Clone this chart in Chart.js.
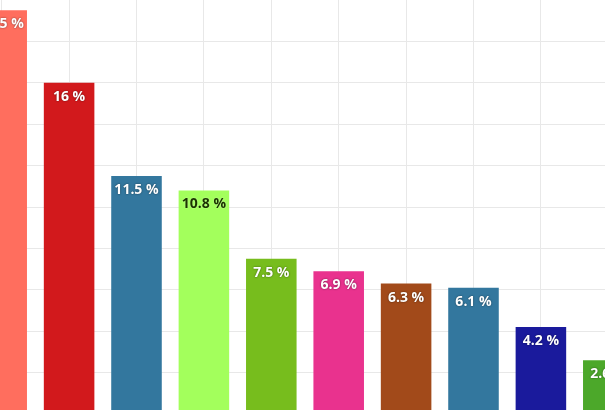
<!DOCTYPE html>
<html>
<head>
<meta charset="utf-8">
<script src="https://cdn.jsdelivr.net/npm/chart.js@4/dist/chart.umd.min.js"></script>
<style>
  html, body { margin: 0; padding: 0; background: #fff; overflow: hidden; }
  body { width: 605px; height: 410px; position: relative; }
  #wrap { position: absolute; left: -32px; top: 0; width: 674px; height: 414px; }
</style>
</head>
<body>
<div id="wrap"><canvas id="chart"></canvas></div>
<script>
// values (percent)
const categories = ["1", "2", "3", "4", "5", "6", "7", "8", "9", "10"];
const values = [19.5, 16, 11.5, 10.8, 7.5, 6.9, 6.3, 6.1, 4.2, 2.6];
const barColors = ["#FF6E5E", "#D2191C", "#33779E", "#A3FF5C", "#77BD1D",
                   "#E9328E", "#A24A1A", "#33779E", "#1A1A9C", "#4CA82A"];
const labelColors = ["#fff", "#fff", "#fff", "#1b3300", "#fff",
                     "#fff", "#fff", "#fff", "#fff", "#fff"];

// percent labels near the top of each bar
const barLabels = {
  id: 'barLabels',
  afterDatasetsDraw(chart) {
    const ctx = chart.ctx;
    const meta = chart.getDatasetMeta(0);
    ctx.save();
    ctx.font = "bold 14px 'Open Sans'";
    ctx.textAlign = 'center';
    ctx.textBaseline = 'middle';
    meta.data.forEach((bar, i) => {
      const dark = labelColors[i] !== '#fff';
      ctx.shadowColor = dark ? 'rgba(255,255,255,0.4)' : 'rgba(0,0,0,0.55)';
      ctx.shadowBlur = 2;
      ctx.fillStyle = labelColors[i];
      ctx.fillText(values[i] + ' %', bar.x, bar.y + 14);
    });
    ctx.restore();
  }
};

new Chart(document.getElementById('chart'), {
  type: 'bar',
  data: {
    labels: categories,
    datasets: [{
      data: values,
      backgroundColor: barColors,
      barPercentage: 0.75,
      categoryPercentage: 1.0
    }]
  },
  options: {
    responsive: true,
    maintainAspectRatio: false,
    animation: false,
    layout: { padding: 0 },
    plugins: { legend: { display: false }, tooltip: { enabled: false } },
    scales: {
      x: {
        grid: { offset: false, color: '#e8e8e8', drawTicks: false },
        border: { display: false },
        ticks: { display: false }
      },
      y: {
        min: 0,
        max: 20,
        grid: {
          color: c => (c.tick && c.tick.value === 20) ? 'rgba(0,0,0,0)' : '#e8e8e8',
          drawTicks: false
        },
        border: { display: false },
        ticks: { display: false, stepSize: 2 }
      }
    }
  },
  plugins: [barLabels]
});
</script>
</body>
</html>
